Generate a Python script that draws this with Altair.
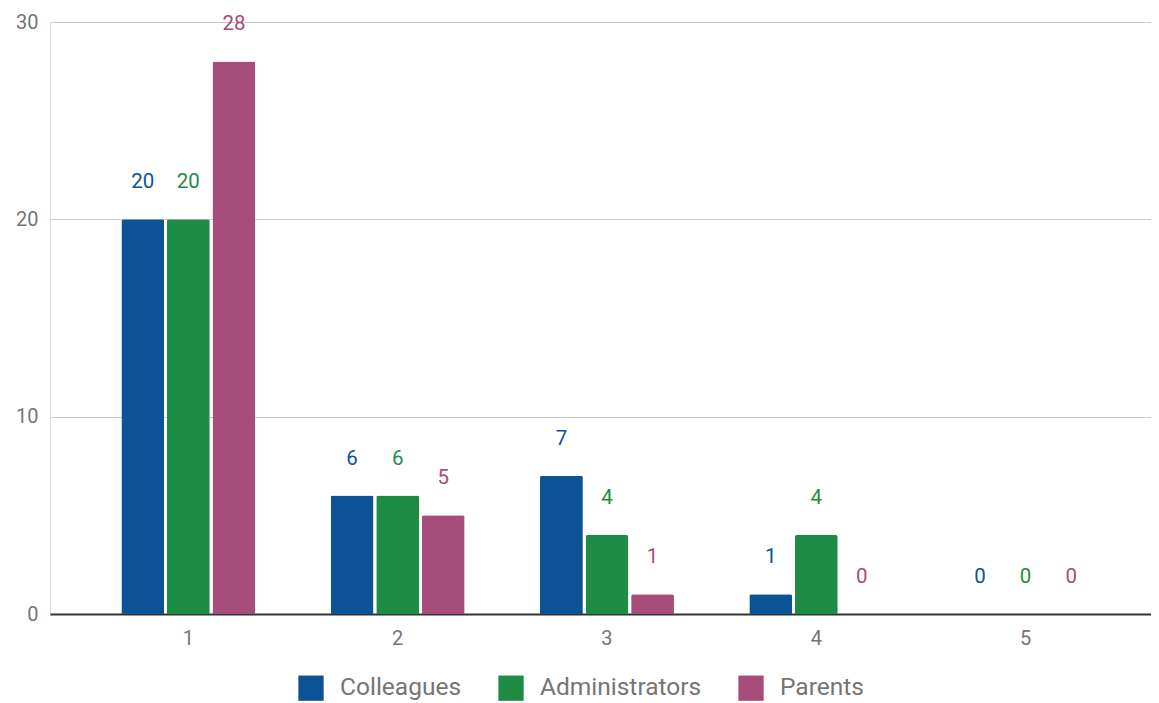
import altair as alt
import pandas as pd

categories = ["1", "2", "3", "4", "5"]
series_names = ["Colleagues", "Administrators", "Parents"]
colleagues = [20, 6, 7, 1, 0]
administrators = [20, 6, 4, 4, 0]
parents = [28, 5, 1, 0, 0]
colors = ["#0b5394", "#1e8c45", "#a64d79"]

rows = []
for name, vals in zip(series_names, [colleagues, administrators, parents]):
    for c, v in zip(categories, vals):
        rows.append({"rating": c, "group": name, "count": v})
df = pd.DataFrame(rows)

x = alt.X(
    "rating:N", sort=categories,
    scale=alt.Scale(paddingInner=0.36, paddingOuter=0.31, align=0.55),
    axis=alt.Axis(title=None, labelAngle=0, ticks=False, domainColor="#333333",
                  domainWidth=2, labelPadding=14, labelFontSize=20,
                  labelColor="#757575", grid=False, labelFont="Roboto"),
)
xoff = alt.XOffset("group:N", sort=series_names,
                   scale=alt.Scale(paddingInner=0.06, paddingOuter=0))
y = alt.Y(
    "count:Q",
    scale=alt.Scale(domain=[0, 30], nice=False),
    axis=alt.Axis(title=None, values=[0, 10, 20, 30], ticks=False, domain=False,
                  labelPadding=12, labelFontSize=20, labelColor="#757575",
                  gridColor="#cccccc", gridWidth=1, labelFont="Roboto"),
)
color = alt.Color(
    "group:N", sort=series_names,
    scale=alt.Scale(domain=series_names, range=colors),
    legend=alt.Legend(title=None, orient="none", direction="horizontal",
                      legendX=248, legendY=653, symbolType="square",
                      symbolSize=640, symbolStrokeWidth=0, symbolOpacity=1,
                      labelFontSize=24.5, labelColor="#757575", labelFont="Roboto",
                      labelOffset=16, columnPadding=36, labelLimit=400),
)

base = alt.Chart(df)
bars = base.mark_bar(cornerRadiusTopLeft=2, cornerRadiusTopRight=2).encode(
    x=x, xOffset=xoff, y=y, color=color
)
labels = base.mark_text(dy=-37, fontSize=20.5, baseline="middle", font="Roboto").encode(
    x=x, xOffset=xoff, y=y, color=color, text=alt.Text("count:Q")
)

chart = (bars + labels).properties(
    width=1101, height=592,
    autosize=alt.AutoSizeParams(type="none"),
    padding={"left": 42, "top": 14, "right": 0, "bottom": 89},
).configure_view(stroke=None).configure(font="Roboto")

chart.save("out.html", embed_options={"renderer": "svg", "actions": False})
